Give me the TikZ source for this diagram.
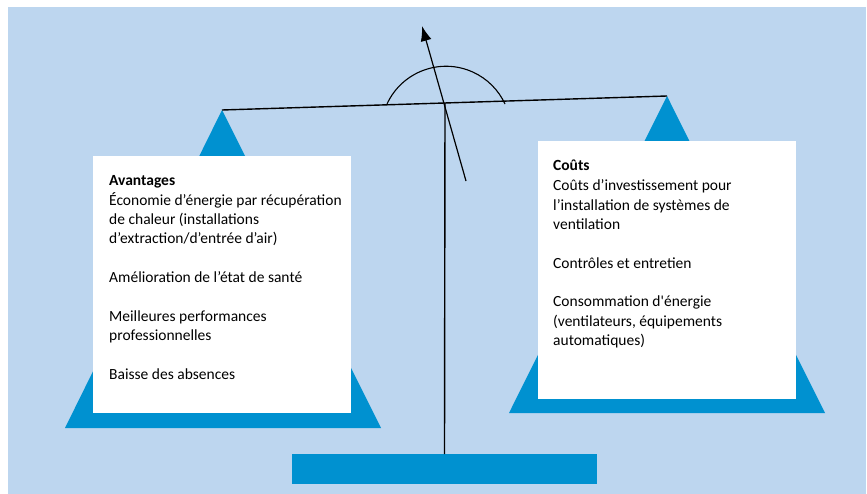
\documentclass[tikz,border=0pt]{standalone}
\usepackage{fontspec}
\setmainfont{Carlito}
\usepackage{xcolor}
\usepackage{tikz}
\usetikzlibrary{arrows.meta}
\usetikzlibrary{positioning}

\definecolor{skyback}{RGB}{189,214,239}
\definecolor{panblue}{RGB}{0,145,208}

\tikzset{
    panbox/.style = {fill = white, inner sep = 0pt, anchor = north west},
    pantext/.style = {anchor = north west, align = left, inner sep = 0pt,
        font = \fontsize{15.5}{19.2}\selectfont},
    beamline/.style = {line width = 1.4pt, color = black}
}

\begin{document}
\begin{tikzpicture}[x = 1pt, y = -1pt]
            \useasboundingbox (0, 0) rectangle (867, 494);
            \fill[skyback] (8, 7) rectangle (866, 494);

            % pans
            \coordinate (lefttop) at (222, 110);
            \coordinate (righttop) at (667, 96);
            \fill[panblue] (lefttop) -- (381, 428) -- (65, 428) -- cycle;
            \fill[panblue] (righttop) -- (825, 413) -- (509, 413) -- cycle;

            \node[panbox, minimum width = 258, minimum height = 257] (leftbox) at (93, 156) {};
            \node[panbox, minimum width = 258, minimum height = 258] (rightbox) at (538, 141) {};

            \node[pantext] (avantages) at ([xshift = 16pt, yshift = -19pt]leftbox.north west)
                {\textbf{Avantages}\\[1pt]
                 Économie d’énergie par récupération\\
                 de chaleur (installations\\
                 d’extraction/d’entrée d’air)\\[19.6pt]
                 Amélioration de l’état de santé\\[19.6pt]
                 Meilleures performances\\
                 professionnelles\\[19.6pt]
                 Baisse des absences};
            \node[pantext] (couts) at ([xshift = 15pt, yshift = -19pt]rightbox.north west)
                {\textbf{Coûts}\\[1pt]
                 Coûts d’investissement pour\\
                 l’installation de systèmes de\\
                 ventilation\\[19.6pt]
                 Contrôles et entretien\\[19.6pt]
                 Consommation d\textquotesingle énergie\\
                 (ventilateurs, équipements\\
                 automatiques)};

            % beam, pole and base
            \node[fill = panblue, inner sep = 0pt, minimum width = 305, minimum height = 30,
                anchor = north] (base) at (444.5, 454) {};
            \coordinate (pivot) at (445, 103);
            \draw[beamline] (lefttop) -- (righttop);
            \draw[beamline] (pivot) -- (base.north);

            % dial and pointer
            \draw[line width = 1.1pt] (387, 104) arc[start angle = 204.8, end angle = 335.2, radius = 65];
            \coordinate (pointerend) at (466, 181);
            \coordinate (pointertip) at (422, 26);
            \draw[line width = 1.2pt, -{Latex[length = 15pt, width = 11pt]}] (pointerend) -- (pointertip);
        \end{tikzpicture}
\end{document}
